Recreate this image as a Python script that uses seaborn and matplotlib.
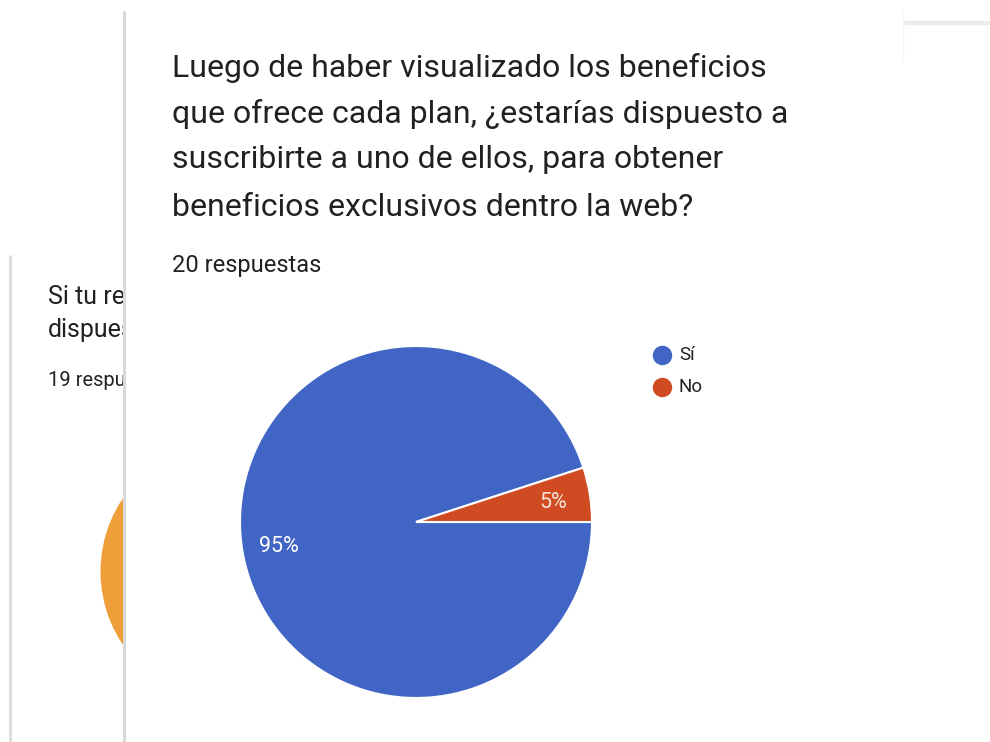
import matplotlib
matplotlib.use("Agg")
import matplotlib.pyplot as plt
from matplotlib.patches import Rectangle
from matplotlib.lines import Line2D
from matplotlib.transforms import Bbox, TransformedBbox
import seaborn as sns

# Survey data
title_lines = [
    "Luego de haber visualizado los beneficios",
    "que ofrece cada plan, ¿estarías dispuesto a",
    "suscribirte a uno de ellos, para obtener",
    "beneficios exclusivos dentro la web?",
]
responses_label = "20 respuestas"
categories = ["Sí", "No"]
values = [95, 5]
colors = ["#4065C5", "#D04A22"]

# Card behind (partially hidden)
back_title = ["Si tu respuesta", "dispuesto"]
back_responses = "19 respuestas"
back_values = [19]
back_colors = ["#EE9F3A"]

sns.set_theme(style="white")
plt.rcParams["font.family"] = ["Roboto", "DejaVu Sans"]

W, H = 990, 742
fig = plt.figure(figsize=(W / 100, H / 100), dpi=100)
fig.patch.set_facecolor("white")


def fx(px):
    return px / W


def fy(py):
    return 1 - py / H


text_color = "#202124"

# --- back card ---
back_clip = TransformedBbox(Bbox([[0, 0], [fx(123), 1]]), fig.transFigure)
fig.add_artist(Line2D([fx(10), fx(10)], [fy(256), fy(742)], color="#dcdcdc", lw=2, zorder=0.2))
for txt, y, size in [(back_title[0], 297, 18), (back_title[1], 330, 18), (back_responses, 380, 14.5)]:
    t = fig.text(fx(48), fy(y), txt, fontsize=size, color=text_color, va="center", zorder=0.5)
    t.set_clip_box(back_clip)
    t.set_clip_on(True)

r_back = 131
cx_b, cy_b = 231.5, 571.5
ax_b = fig.add_axes([fx(cx_b - r_back), fy(cy_b + r_back), 2 * r_back / W, 2 * r_back / H])
ax_b.pie(back_values, colors=back_colors, radius=1, wedgeprops=dict(linewidth=0))
ax_b.set_xlim(-1, 1)
ax_b.set_ylim(-1, 1)
ax_b.axis("off")
ax_b.set_zorder(0.1)

# --- front card ---
fig.add_artist(Rectangle((fx(125), 0), 1 - fx(125), fy(12), facecolor="white",
                         edgecolor="none", zorder=1))
fig.add_artist(Line2D([fx(124), fx(124)], [fy(12), fy(742)], color="#d9d9d9", lw=2.2, zorder=1.1))
# edge of a neighbouring card in the top right
fig.add_artist(Line2D([fx(905), fx(990)], [fy(23), fy(23)], color="#ececec", lw=3, zorder=1.1))
fig.add_artist(Line2D([fx(903), fx(903)], [fy(12), fy(60)], color="#f6f6f6", lw=1, zorder=1.1))

line_y = [68, 114, 160, 208]
for ln, y in zip(title_lines, line_y):
    fig.text(fx(172), fy(y), ln, fontsize=23, color=text_color, va="center", zorder=3)
fig.text(fx(172), fy(265), responses_label, fontsize=17, color=text_color, va="center", zorder=3)

# pie
r = 176
cx, cy = 416, 522
ax = fig.add_axes([fx(cx - r), fy(cy + r), 2 * r / W, 2 * r / H])
ax.set_zorder(2)
wedges, texts, autotexts = ax.pie(
    values, colors=colors, startangle=0, counterclock=False, radius=1,
    autopct="%d%%", pctdistance=0.79,
    wedgeprops=dict(edgecolor="white", linewidth=1.5),
    textprops=dict(color="white", fontsize=15.5, va="center_baseline"),
)
autotexts[1].set_color("#F6E3D6")
ax.set_xlim(-1, 1)
ax.set_ylim(-1, 1)
ax.axis("off")

# legend
leg_x, leg_y = 662, [355, 387]
for cat, col, y in zip(categories, colors, leg_y):
    fig.add_artist(Line2D([fx(leg_x)], [fy(y)], marker="o", markersize=14,
                          markerfacecolor=col, markeredgecolor="none", zorder=3))
    fig.text(fx(leg_x + 17), fy(y), cat, fontsize=13.5, color=text_color, va="center", zorder=3)

fig.savefig("out.png", dpi=100)
